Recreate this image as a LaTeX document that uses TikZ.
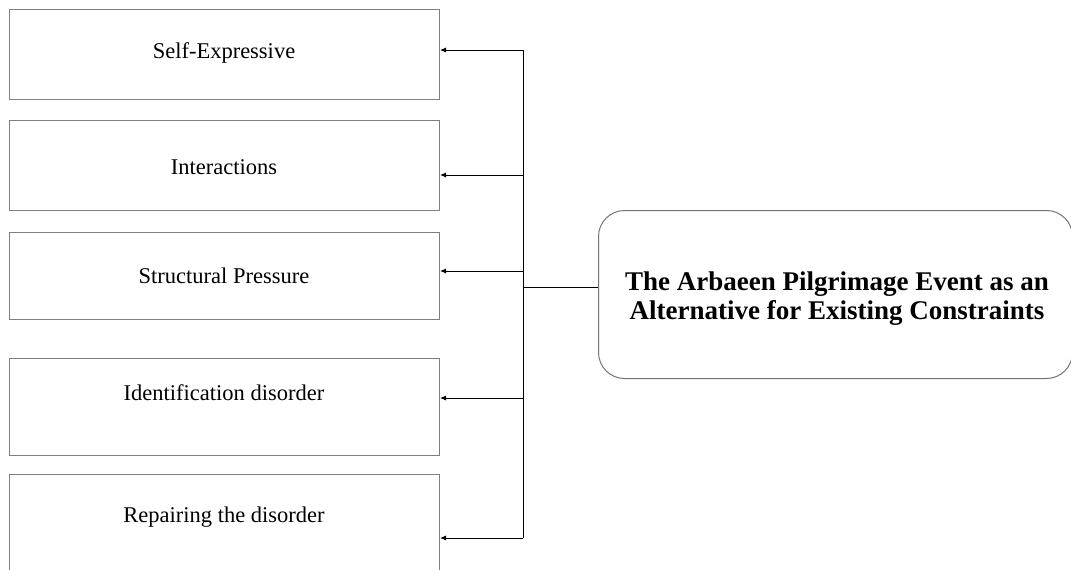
\documentclass[tikz,border=0pt]{standalone}
\usepackage{fontspec}
\setmainfont{Liberation Serif}
\usetikzlibrary{arrows.meta}
\begin{document}
\begin{tikzpicture}[x=1pt,y=-1pt,
  itembox/.style={draw=black!50,line width=1pt,rectangle,minimum width=430pt,anchor=north west,inner sep=0pt},
  itemtext/.style={font=\fontsize{22.5}{26}\selectfont,inner sep=0pt},
  mainbox/.style={draw=black!55,line width=1pt,rectangle,rounded corners=26pt,minimum width=474pt,minimum height=168pt,anchor=north west,inner sep=0pt},
  maintext/.style={font=\bfseries\fontsize{27}{29}\selectfont,align=center,inner sep=0pt},
  link/.style={draw=black,line width=0.9pt},
  arr/.style={link,-{Latex[length=6pt,width=5pt]}}]
\useasboundingbox (0,0) rectangle (1071,570);
\clip (0,0) rectangle (1071,570);
% left column of boxes
\node[itembox,minimum height=90pt] (b1) at (9,9) {};
\node[itembox,minimum height=90pt] (b2) at (9,120) {};
\node[itembox,minimum height=87pt] (b3) at (9,232) {};
\node[itembox,minimum height=97pt] (b4) at (9,358) {};
\node[itembox,minimum height=130pt] (b5) at (9,474) {};
\node[itemtext] (t1) at (224,53) {Self-Expressive};
\node[itemtext] (t2) at (224,167) {Interactions};
\node[itemtext] (t3) at (224,276) {Structural Pressure};
\node[itemtext] (t4) at (224,393) {Identification disorder};
\node[itemtext] (t5) at (224,517) {Repairing the disorder};
% central box
\node[mainbox] (m) at (598,210) {};
\node[maintext] (mt) at (837,299) {The Arbaeen Pilgrimage Event as an\\Alternative for Existing Constraints};
% connectors
\coordinate (top) at (523,50);
\coordinate (bot) at (523,538);
\coordinate (hub) at (523,287);
\draw[link] (top) -- (bot);
\draw[link] (hub) -- (m.west |- hub);
\draw[arr] (top) -- (b1.east |- top);
\draw[arr] (523,175) -- (b2.east |- 0,175);
\draw[arr] (523,271) -- (b3.east |- 0,271);
\draw[arr] (523,398) -- (b4.east |- 0,398);
\draw[arr] (bot) -- (b5.east |- bot);
\end{tikzpicture}
\end{document}
